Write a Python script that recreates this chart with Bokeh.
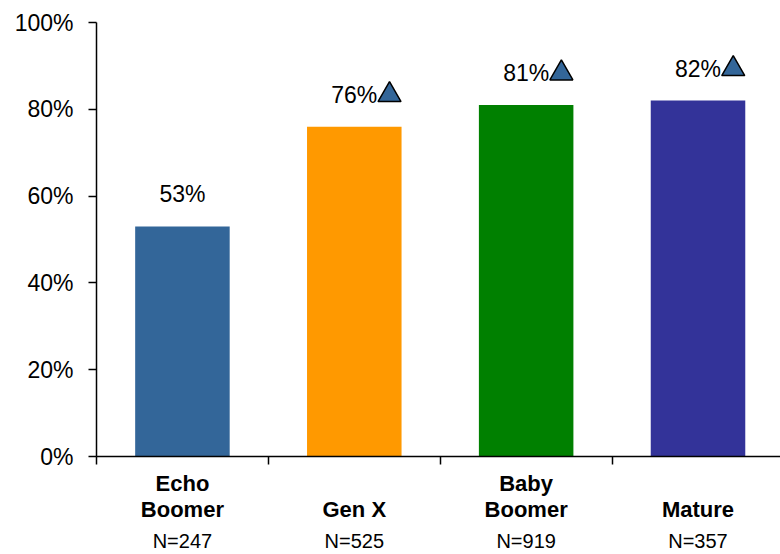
from bokeh.plotting import figure
from bokeh.models import (ColumnDataSource, Range1d, LinearAxis, FixedTicker,
                          PrintfTickFormatter, LabelSet)
from bokeh.core.properties import value
from bokeh.embed import file_html
from bokeh.resources import INLINE

# Share by generation
generations = ["Echo Boomer", "Gen X", "Baby Boomer", "Mature"]
label_line1 = ["Echo", "", "Baby", ""]
label_line2 = ["Boomer", "Gen X", "Boomer", "Mature"]
sample_sizes = ["N=247", "N=525", "N=919", "N=357"]
shares = [53, 76, 81, 82]
significant = [False, True, True, True]
bar_colors = ["#336699", "#FF9900", "#008000", "#333399"]
y_ticks = [0, 20, 40, 60, 80, 100]

FONT = "Liberation Sans"

centers = [i + 0.5 for i in range(len(generations))]
boundaries = list(range(len(generations) + 1))

bars = ColumnDataSource(dict(
    x=centers, top=shares, color=bar_colors,
    text=[f"{v}%" for v in shares],
))
marks = ColumnDataSource(dict(
    x=[c + 0.205 for c, s in zip(centers, significant) if s],
    y=[v + 7.3 for v, s in zip(shares, significant) if s],
))

p = figure(width=780, height=554, output_backend="svg", toolbar_location=None,
           x_range=Range1d(0, 3.98), y_range=Range1d(0, 100),
           min_border_left=96, min_border_right=0, min_border_top=22,
           min_border_bottom=98)
p.outline_line_color = None
p.grid.visible = False
p.background_fill_color = "white"
p.border_fill_color = "white"

p.vbar(x="x", top="top", width=0.55, bottom=0, color="color", line_color=None,
       source=bars)

p.add_layout(LabelSet(x="x", y="top", text="text", source=bars,
                      y_offset=32, text_align="center", text_baseline="middle",
                      text_font=value(FONT), text_font_size="23px",
                      text_color="black"))

p.scatter(x="x", y="y", source=marks, marker="triangle", size=23,
          fill_color="#336699", line_color="black", line_width=1.5)

# y axis
ya = p.yaxis[0]
ya.ticker = FixedTicker(ticks=y_ticks)
ya.formatter = PrintfTickFormatter(format="%d%%")
ya.major_label_text_font = FONT
ya.major_label_text_font_size = "23px"
ya.major_label_text_color = "black"
ya.major_label_standoff = 15
ya.major_tick_in = 0
ya.major_tick_out = 8
ya.minor_tick_line_color = None
ya.axis_line_color = "black"
ya.axis_line_width = 1.5
ya.major_tick_line_width = 1.5

# x axis: boundary ticks as minor ticks, first label line as major labels
first_line = [(c, t) for c, t in zip(centers, label_line1) if t]
xa = p.xaxis[0]
xa.ticker = FixedTicker(ticks=[c for c, _ in first_line], minor_ticks=boundaries)
xa.major_label_overrides = {c: t for c, t in first_line}
xa.major_label_text_font = FONT
xa.major_label_text_font_size = "22px"
xa.major_label_text_font_style = "bold"
xa.major_label_text_color = "black"
xa.major_label_standoff = 6
xa.major_tick_line_color = None
xa.major_tick_in = 0
xa.major_tick_out = 0
xa.minor_tick_in = 0
xa.minor_tick_out = 8
xa.minor_tick_line_color = "black"
xa.minor_tick_line_width = 1.5
xa.axis_line_color = "black"
xa.axis_line_width = 1.5


def label_axis(texts, size, bold, standoff):
    ax = LinearAxis(ticker=FixedTicker(ticks=centers),
                    major_label_overrides={c: t for c, t in zip(centers, texts)})
    ax.axis_line_color = None
    ax.major_tick_line_color = None
    ax.minor_tick_line_color = None
    ax.major_tick_in = 0
    ax.major_tick_out = 0
    ax.major_label_standoff = standoff
    ax.major_label_text_font = FONT
    ax.major_label_text_font_size = size
    ax.major_label_text_font_style = "bold" if bold else "normal"
    ax.major_label_text_color = "black"
    p.add_layout(ax, "below")


label_axis(label_line2, "22px", True, -2)
label_axis(sample_sizes, "20px", False, 5)

open("out.html", "w").write(file_html(p, INLINE))
